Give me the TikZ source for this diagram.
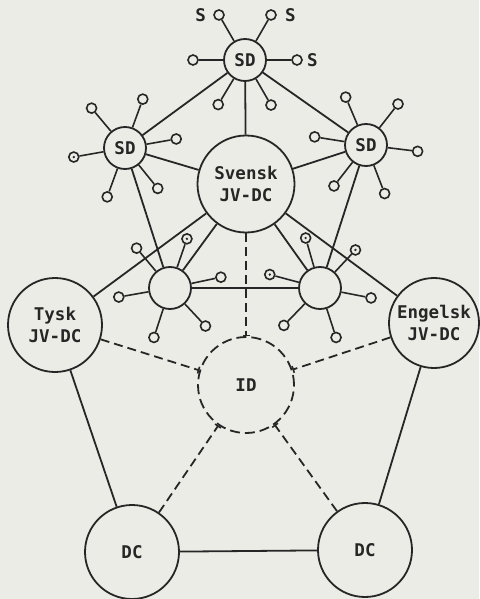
\documentclass[tikz,border=0pt]{standalone}
\usepackage{fontspec}
\setmonofont{DejaVu Sans Mono}
\usetikzlibrary{calc,arrows.meta,positioning}
\definecolor{paper}{RGB}{236,236,231}
\definecolor{ink}{RGB}{38,38,38}
\begin{document}
\begin{tikzpicture}[x=1pt,y=-1pt,
  txt/.style={font=\ttfamily\bfseries\fontsize{17.5}{22}\selectfont, text=ink, align=center},
  bignode/.style={txt, circle, draw=ink, line width=1.8pt, fill=paper, inner sep=0pt, minimum size=#1},
  sdnode/.style={bignode=42pt},
  sat/.style={circle, draw=ink, line width=1.6pt, fill=paper, inner sep=0pt, minimum size=10pt},
  dotsat/.style={sat, path picture={\fill[ink] (path picture bounding box.center) circle (1.3pt);}},
  link/.style={draw=ink, line width=1.8pt},
  idlink/.style={link, dash pattern=on 9pt off 5pt, -{Bar[width=7pt,line width=1.6pt]}},
  slbl/.style={txt, inner sep=0pt}
]
% page
\fill[paper] (0,0) rectangle (479,599);
\useasboundingbox (0,0) rectangle (479,599);

% main centres
\node[bignode=97pt] (svensk) at (246,184) {Svensk\\JV-DC};
\node[bignode=94pt] (tysk) at (55,325) {Tysk\\JV-DC};
\node[bignode=90pt] (engelsk) at (434,323) {Engelsk\\JV-DC};
\node[bignode=96pt, draw=none] (id) at (246,385) {ID};
\draw[ink, line width=1.8pt, dash pattern=on 10pt off 5pt] (id) circle (48pt);
\node[bignode=94pt] (dcl) at (132,552) {DC};
\node[bignode=94pt] (dcr) at (365,550) {DC};

% satellite hubs
\node[sdnode] (topsd) at (245,60) {SD};
\node[sdnode] (lsd) at (125,148) {SD};
\node[sdnode] (rsd) at (366,145) {SD};
\node[sdnode] (lhub) at (170,288) {};
\node[sdnode] (rhub) at (320,288) {};

% links between centres
\draw[link] (topsd) -- (lsd);
\draw[link] (topsd) -- (svensk);
\draw[link] (topsd) -- (rsd);
\draw[link] (lsd) -- (svensk);
\draw[link] (rsd) -- (svensk);
\draw[link] (lsd) -- (lhub);
\draw[link] (rsd) -- (rhub);
\draw[link] (svensk) -- (lhub);
\draw[link] (svensk) -- (rhub);
\draw[link] (lhub) -- (rhub);
\draw[link] (svensk) -- (tysk);
\draw[link] (svensk) -- (engelsk);
\draw[link] (tysk) -- (dcl);
\draw[link] (engelsk) -- (dcr);
\draw[link] (dcl) -- (dcr);

% links into ID
\draw[idlink] (svensk) -- (id);
\draw[idlink] (tysk) -- (id);
\draw[idlink] (engelsk) -- (id);
\draw[idlink] (dcl) -- (id);
\draw[idlink] (dcr) -- (id);

% terminals around each hub: angle/style
\foreach \hubname/\list in {
  topsd/{120/sat,60/sat,180/sat,0/sat,-121/sat,-60/sat},
  lsd/{130/sat,70/sat,10/sat,190/dotsat,-51/sat,-110/sat},
  rsd/{113/sat,52/sat,171/sat,-7/sat,-128/sat,-69/sat},
  lhub/{130/sat,71/dotsat,12/sat,190/sat,-47/sat,-108/sat},
  rhub/{106/dotsat,47/dotsat,165/dotsat,-11/sat,-134/sat,-72/sat}} {
  \foreach \ang/\sty [count=\i] in \list {
    \node[\sty] (\hubname-\i) at ($(\hubname)+(\ang:52pt)$) {};
    \draw[link, line width=1.6pt] (\hubname) -- (\hubname-\i);
  }
}

% terminal labels
\node[slbl, left=7pt of topsd-1] (s1) {S};
\node[slbl, right=8pt of topsd-2] (s2) {S};
\node[slbl, right=4pt of topsd-4] (s3) {S};
\end{tikzpicture}
\end{document}
